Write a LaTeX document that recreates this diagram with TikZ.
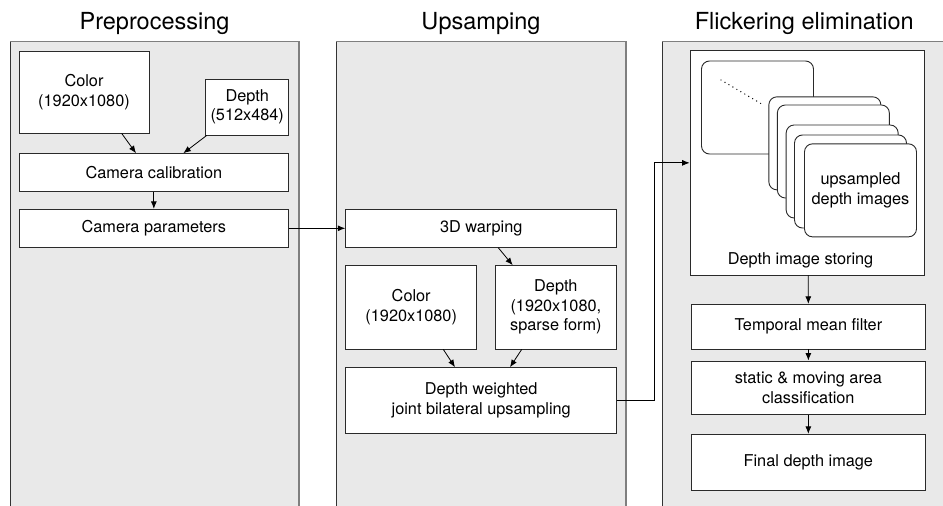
\documentclass[tikz,border=0pt]{standalone}
\usepackage{fontspec}
\setmainfont{TeX Gyre Heros}
\usetikzlibrary{arrows.meta}
\definecolor{panelfill}{HTML}{E9E9E9}
\definecolor{panelline}{HTML}{7F7F7F}
\definecolor{boxline}{HTML}{2A2A2A}
\begin{document}
\begin{tikzpicture}[x=1pt,y=-1pt,
  panel/.style={fill=panelfill, draw=panelline, line width=1pt},
  box/.style={draw=boxline, fill=white, line width=0.9pt, inner sep=0pt, align=center,
    font=\fontsize{16.3}{19.5}\selectfont},
  card/.style={draw=boxline, fill=white, line width=0.9pt, rounded corners=8pt,
    minimum width=112pt, minimum height=93pt, inner sep=0pt, align=center,
    font=\fontsize{16.3}{19.5}\selectfont},
  plain/.style={inner sep=0pt, align=center, font=\fontsize{16.3}{19.5}\selectfont},
  title/.style={anchor=base, inner sep=0pt, font=\fontsize{23.5}{28}\selectfont},
  arr/.style={-{Latex[length=7.5pt,width=6pt]}, line width=0.8pt, draw=black}]

\clip (0,0) rectangle (943,506);
\fill[white] (0,0) rectangle (943,506);

% panels
\draw[panel] (10,41) rectangle (299,520);
\draw[panel] (336,41) rectangle (625.7,520);
\draw[panel] (662.7,41) rectangle (948,520);
\draw[black!80, line width=0.8pt] (10,41.5) -- (10,520);
\draw[black!80, line width=0.8pt] (336,41.5) -- (336,520);
\draw[black!80, line width=0.8pt] (662.7,41.5) -- (662.7,520);
\draw[panelline, line width=2pt] (299,41) -- (299,520);
\draw[panelline, line width=2pt] (625.7,41) -- (625.7,520);

% titles
\node[title] (t1) at (154.5,29) {Preprocessing};
\node[title] (t2) at (481,29) {Upsamping};
\node[title] (t3) at (804.3,29) {Flickering elimination};

% panel 1
\node[box, minimum width=130pt, minimum height=82pt] (colorA) at (84,92) {Color\\(1920x1080)};
\node[box, minimum width=83pt, minimum height=56pt] (depthA) at (247.2,107) {Depth\\(512x484)};
\node[box, minimum width=269.7pt, minimum height=38pt] (calib) at (153.85,172.7) {Camera calibration};
\node[box, minimum width=269.7pt, minimum height=38pt] (params) at (153.85,228.3) {Camera parameters};

% panel 2
\node[box, minimum width=271pt, minimum height=38pt] (warp) at (481.2,228.3) {3D warping};
\node[box, minimum width=131pt, minimum height=83.3pt] (colorB) at (411.2,307.3) {Color\\(1920x1080)};
\node[box, minimum width=121.7pt, minimum height=83.3pt] (depthB) at (555.85,307.3) {Depth\\(1920x1080,\\sparse form)};
\node[box, minimum width=271pt, minimum height=65.3pt] (dw) at (481.2,400.3) {Depth weighted\\joint bilateral upsampling};

% panel 3
\node[box, minimum width=234.3pt, minimum height=224.3pt] (store) at (807.2,162.85) {};
\node[card] (back) at (757.5,107.5) {};
\coordinate (d1) at (721,80);
\coordinate (d2) at (761.7,104);
\draw[line width=1.4pt, line cap=round, dash pattern=on 0pt off 4.6pt] (d1) -- (d2);
\node[card] (c1) at (824.85,143.35) {};
\node[card] (c2) at (833.35,151.5) {};
\node[card] (c3) at (842.15,171.5) {};
\node[card] (c4) at (850.5,181.5) {};
\node[card] (c5) at (860.5,190.35) {upsampled\\depth images};
\node[plain] (storelbl) at (800.5,260) {Depth image storing};

\node[box, minimum width=233.3pt, minimum height=44.7pt] (tmf) at (808.35,326.65) {Temporal mean filter};
\node[box, minimum width=233.3pt, minimum height=53.3pt] (cls) at (808.35,387.65) {static \& moving area\\classification};
\node[box, minimum width=233.3pt, minimum height=55.7pt] (final) at (808.35,462.15) {Final depth image};

% connectors
\draw[arr] ([xshift=37.7pt]colorA.south) -- ([xshift=-17.85pt]calib.north);
\draw[arr] ([xshift=-40.5pt]depthA.south) -- ([xshift=29.45pt]calib.north);
\draw[arr] (calib.south) -- (params.north);
\draw[arr] (params.east) -- (warp.west);
\draw[arr] ([xshift=17.1pt]warp.south) -- ([xshift=-43.15pt]depthB.north);
\draw[arr] ([xshift=32.1pt]colorB.south) -- ([xshift=-26.2pt]dw.north);
\draw[arr] ([xshift=-34.15pt]depthB.south) -- ([xshift=28.8pt]dw.north);
\draw[arr] (dw.east) -- ++(37.6,0) |- (store.west);
\draw[arr] ([xshift=1pt]store.south) -- (tmf.north);
\draw[arr] (tmf.south) -- (cls.north);
\draw[arr] (cls.south) -- (final.north);
\end{tikzpicture}
\end{document}
